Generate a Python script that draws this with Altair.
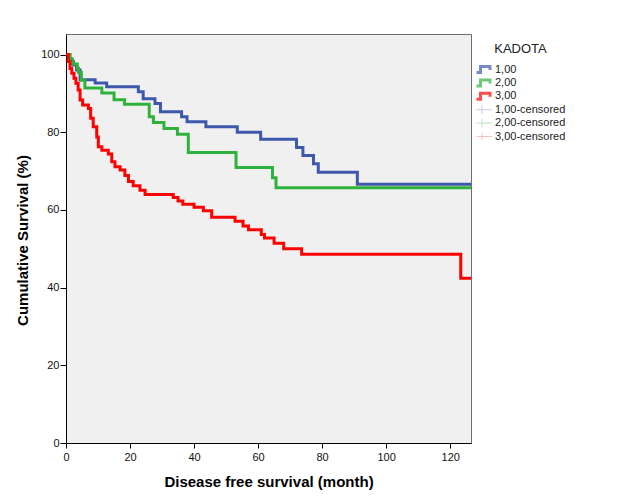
import altair as alt
import pandas as pd

# ---- data ----
groups = ["1,00", "2,00", "3,00", "1,00-censored", "2,00-censored", "3,00-censored"]

blue_time = [0, 1.0, 1.6, 2.3, 3.3, 4.4, 9.1, 12.7, 22.6, 24.1, 27.8, 29.5, 36.1, 37.8,
             43.7, 53.5, 60.8, 72.0, 74.0, 77.3, 78.8, 91.0, 126.5]
blue_surv = [100, 99.0, 98.2, 97.3, 96.0, 93.5, 92.7, 91.7, 90.4, 88.6, 87.4, 85.3, 84.0, 82.7,
             81.4, 80.0, 78.2, 76.1, 74.0, 71.9, 69.7, 66.6, 66.6]

green_time = [0, 1.3, 2.0, 3.5, 3.9, 4.8, 5.9, 11.2, 15.0, 18.3, 26.0, 27.3, 30.6, 34.8,
              38.2, 53.1, 64.5, 65.6, 126.5]
green_surv = [100, 98.8, 97.6, 96.5, 95.4, 93.4, 91.4, 90.1, 88.4, 87.2, 84.0, 82.5, 81.0, 79.5,
              74.8, 70.9, 68.3, 65.7, 65.7]

red_time = [0, 0.7, 1.25, 1.8, 2.5, 3.1, 3.8, 4.4, 5.2, 7.0, 7.7, 8.5, 9.6, 10.1, 11.2,
            13.2, 14.3, 15.3, 16.9, 18.4, 19.5, 21.0, 23.1, 24.7, 33.5, 35.0, 36.5, 40.0,
            42.9, 45.5, 52.8, 55.3, 57.0, 61.0, 62.0, 65.0, 68.0, 73.6, 123.3, 126.5]
red_surv = [100, 98.2, 96.4, 95.2, 93.9, 92.6, 90.9, 88.3, 87.0, 86.1, 83.6, 81.4, 78.8, 76.3, 75.4,
            74.4, 72.4, 71.1, 70.3, 68.9, 67.3, 66.2, 65.1, 64.0, 63.2, 62.3, 61.5, 60.7,
            59.8, 58.1, 57.1, 55.9, 54.9, 53.7, 52.8, 51.4, 50.0, 48.6, 42.4, 42.4]

x_ticks = [0, 20, 40, 60, 80, 100, 120]
y_ticks = [0, 20, 40, 60, 80, 100]

# ---- styling ----
colors = ["#3e58ac", "#2fb23c", "#ff0000", "#aab4e0", "#9fd8a7", "#f5a4a4"]
# filled outlines: a thick step icon and a thin "+" icon for the legend
step_path = ("M-4,1.8 H0 V-0.6 H2.6 V0.2 H3.8 V-1.8 H-1.2 V0.6 H-4 Z")
plus_path = ("M-4,-0.2 H-0.2 V-1.6 H0.2 V-0.2 H4 V0.2 H0.2 V1.6 H-0.2 V0.2 H-4 Z")
shapes = [step_path] * 3 + [plus_path] * 3
FONT = "Liberation Sans"

rows = []
for g, ts, ss in [(groups[0], blue_time, blue_surv),
                  (groups[1], green_time, green_surv),
                  (groups[2], red_time, red_surv)]:
    for t, s in zip(ts, ss):
        rows.append({"group": g, "time": t, "surv": s})
df = pd.DataFrame(rows)
legend_df = pd.DataFrame({"group": groups, "time": [None] * 6, "surv": [None] * 6})

x_scale = alt.Scale(domain=[0, 126.5], nice=False, zero=True)
y_scale = alt.Scale(domain=[0, 105.3], nice=False, zero=True)

legend = alt.Legend(
    title="KADOTA", orient="none", legendX=410.5, legendY=9,
    titleFont=FONT, titleFontSize=13, titleFontWeight="normal", titleColor="#222",
    titleAnchor="middle", titlePadding=8,
    labelFont=FONT, labelFontSize=11, labelColor="#222",
    symbolSize=25, symbolStrokeWidth=0, labelOffset=7.5, rowPadding=1.4, clipHeight=11,
)

x_enc = alt.X("time:Q", scale=x_scale, axis=alt.Axis(
    title="Disease free survival (month)", values=x_ticks, tickSize=5, labelPadding=3,
    labelFlush=False, labelOverlap=False, grid=False,
    titleBaseline="middle", titleY=38))
y_enc = alt.Y("surv:Q", scale=y_scale, axis=alt.Axis(
    title="Cumulative Survival (%)", values=y_ticks, tickSize=6, labelPadding=1,
    grid=False, titleBaseline="middle", titleX=-44, titleY=206, labelOverlap=False))

lines = alt.Chart(df).mark_line(interpolate="step-after", strokeWidth=3).encode(
    x=x_enc, y=y_enc,
    stroke=alt.Stroke("group:N", scale=alt.Scale(domain=groups[:3], range=colors[:3]),
                      legend=None),
)

points = alt.Chart(legend_df).mark_point(filled=True, strokeWidth=0).encode(
    x=x_enc, y=y_enc,
    color=alt.Color("group:N", scale=alt.Scale(domain=groups, range=colors), legend=legend),
    shape=alt.Shape("group:N", scale=alt.Scale(domain=groups, range=shapes), legend=legend),
)

chart = alt.layer(lines, points).properties(
    width=405, height=409,
    autosize=alt.AutoSizeParams(type="none"),
    padding={"left": 58, "top": 26, "right": 150, "bottom": 53},
    background="white",
).configure_view(
    fill="#f0f0f0", stroke="#6e6e6e", strokeWidth=1,
).configure_axis(
    domainColor="black", tickColor="black", domainWidth=1, tickWidth=1,
    labelFont=FONT, labelFontSize=11, labelColor="#111",
    titleFont=FONT, titleFontSize=15, titleFontWeight="bold", titleColor="black",
)

chart.save("out.html", embed_options={"renderer": "svg", "actions": False})
